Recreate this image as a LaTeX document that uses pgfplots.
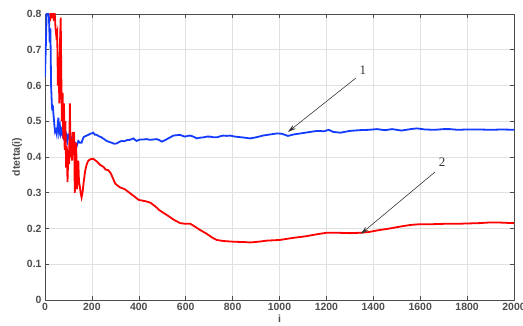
\documentclass[border=0pt]{standalone}
\usepackage{pgfplots}
\pgfplotsset{compat=1.18}
\usetikzlibrary{arrows.meta}
\usepackage{fontspec}
\setmainfont{Liberation Sans}
\newfontfamily\seriffont{Liberation Serif}
\definecolor{mblue}{RGB}{20,60,255}
\definecolor{mred}{RGB}{255,0,0}
\definecolor{tickgray}{RGB}{77,77,77}
\begin{document}
\begin{tikzpicture}
\begin{axis}[
  width=469bp, height=286bp, scale only axis,
  xmin=0, xmax=2000, ymin=0, ymax=0.8,
  xtick={0,200,...,2000},
  ytick={0,0.1,0.2,0.3,0.4,0.5,0.6,0.7,0.8},
  grid=major,
  grid style={draw=black!12, line width=0.5bp},
  axis line style={draw=black!70, line width=0.6bp},
  tick style={draw=black!70, line width=0.6bp},
  major tick length=4bp,
  tick align=inside,
  /pgf/number format/assume math mode=true,
  /pgf/number format/set thousands separator={},
  yticklabel style={/pgf/number format/fixed, /pgf/number format/precision=1},
  ticklabel style={font=\bfseries\fontsize{10.5}{12}\selectfont, text=tickgray},
  xlabel={i}, ylabel={dtetta(i)},
  label style={font=\bfseries\fontsize{10.5}{12}\selectfont, text=tickgray},
  xlabel style={yshift=2.5bp},
  ylabel style={yshift=-2bp},
]
\addplot[mblue, line width=1.8bp] coordinates {
(0,0.624)(4,0.72)(7,0.8)(12,0.81)(17,0.79)(20,0.72)(23,0.76)(26,0.6)(29,0.55)(31,0.53)(33,0.545)(36,0.52)(40,0.49)(43,0.47)(47,0.475)(50,0.465)(54,0.49)(57,0.51)(60,0.47)(64,0.485)(67,0.465)(71,0.475)(75,0.46)(78,0.455)(82,0.475)(85,0.47)(89,0.45)(92,0.46)(96,0.445)(100,0.46)(107,0.45)(114,0.455)(121,0.445)(128,0.44)(135,0.43)(142,0.445)(149,0.44)(156,0.44)(164,0.455)(171,0.458)(178,0.46)(185,0.462)(192,0.465)(200,0.466)(206,0.468)(213,0.462)(220,0.462)(230,0.458)(241,0.455)(252,0.45)(263,0.445)(274,0.442)(284,0.44)(295,0.437)(306,0.438)(316,0.442)(327,0.445)(338,0.444)(348,0.447)(362,0.448)(377,0.452)(384,0.448)(391,0.445)(405,0.449)(420,0.449)(434,0.45)(448,0.448)(462,0.449)(477,0.45)(488,0.447)(498,0.443)(509,0.446)(520,0.45)(534,0.455)(548,0.46)(562,0.461)(576,0.462)(587,0.459)(597,0.457)(608,0.459)(619,0.46)(633,0.457)(647,0.452)(661,0.454)(676,0.455)(690,0.457)(704,0.457)(719,0.455)(733,0.455)(747,0.458)(761,0.46)(775,0.459)(789,0.46)(810,0.457)(840,0.455)(874,0.452)(900,0.455)(930,0.46)(960,0.463)(990,0.466)(1010,0.465)(1036,0.459)(1060,0.463)(1100,0.467)(1130,0.47)(1160,0.473)(1190,0.472)(1210,0.476)(1230,0.47)(1260,0.468)(1300,0.473)(1340,0.475)(1380,0.476)(1416,0.478)(1450,0.475)(1480,0.478)(1520,0.474)(1560,0.478)(1586,0.48)(1620,0.477)(1660,0.476)(1700,0.478)(1727,0.478)(1760,0.476)(1800,0.477)(1850,0.477)(1900,0.476)(1950,0.477)(2000,0.476)
};
\addplot[mred, line width=1.8bp] coordinates {
(21,0.82)(25,0.79)(30,0.8)(35,0.79)(40,0.82)(45,0.76)(48,0.74)(52,0.75)(55,0.6)(58,0.68)(61,0.55)(64,0.72)(67,0.79)(70,0.6)(72,0.5)(75,0.58)(78,0.45)(81,0.55)(84,0.42)(87,0.5)(90,0.37)(93,0.43)(96,0.33)(100,0.42)(103,0.38)(106,0.55)(109,0.4)(112,0.45)(115,0.39)(118,0.47)(121,0.41)(124,0.47)(127,0.3)(130,0.35)(133,0.44)(136,0.31)(139,0.33)(142,0.39)(145,0.33)(148,0.32)(152,0.3)(156,0.287)(160,0.3)(165,0.33)(171,0.36)(178,0.38)(185,0.39)(195,0.394)(206,0.395)(220,0.388)(235,0.378)(250,0.372)(258,0.365)(270,0.363)(280,0.355)(290,0.34)(300,0.325)(320,0.315)(340,0.31)(360,0.3)(380,0.29)(400,0.28)(430,0.276)(450,0.272)(470,0.262)(490,0.25)(519,0.238)(548,0.225)(576,0.215)(600,0.213)(620,0.213)(640,0.205)(661,0.196)(690,0.185)(712,0.175)(732,0.168)(760,0.165)(803,0.163)(850,0.162)(874,0.161)(910,0.163)(945,0.166)(1002,0.168)(1040,0.172)(1073,0.175)(1110,0.178)(1144,0.182)(1170,0.185)(1201,0.188)(1250,0.188)(1300,0.187)(1343,0.188)(1380,0.19)(1420,0.195)(1470,0.2)(1520,0.206)(1560,0.21)(1599,0.212)(1650,0.212)(1700,0.213)(1750,0.213)(1800,0.214)(1850,0.215)(1900,0.217)(1928,0.217)(1960,0.216)(2000,0.215)
};
\draw[-{Stealth[length=8bp,width=4.5bp]}, draw=black!80, fill=black!80, line width=0.5bp] (axis cs:1326,0.621) -- (axis cs:1036,0.470);
\draw[-{Stealth[length=8bp,width=4.5bp]}, draw=black!80, fill=black!80, line width=0.5bp] (axis cs:1663,0.358) -- (axis cs:1347,0.185);
\node[font=\seriffont\fontsize{13}{14}\selectfont, text=black!80] at (axis cs:1356,0.643) {1};
\node[font=\seriffont\fontsize{13}{14}\selectfont, text=black!80] at (axis cs:1693,0.385) {2};
\end{axis}
\pgfresetboundingbox
\path ([shift={(-45bp,-26bp)}]current axis.south west) rectangle ([shift={(9bp,14bp)}]current axis.north east);
\end{tikzpicture}
\end{document}
